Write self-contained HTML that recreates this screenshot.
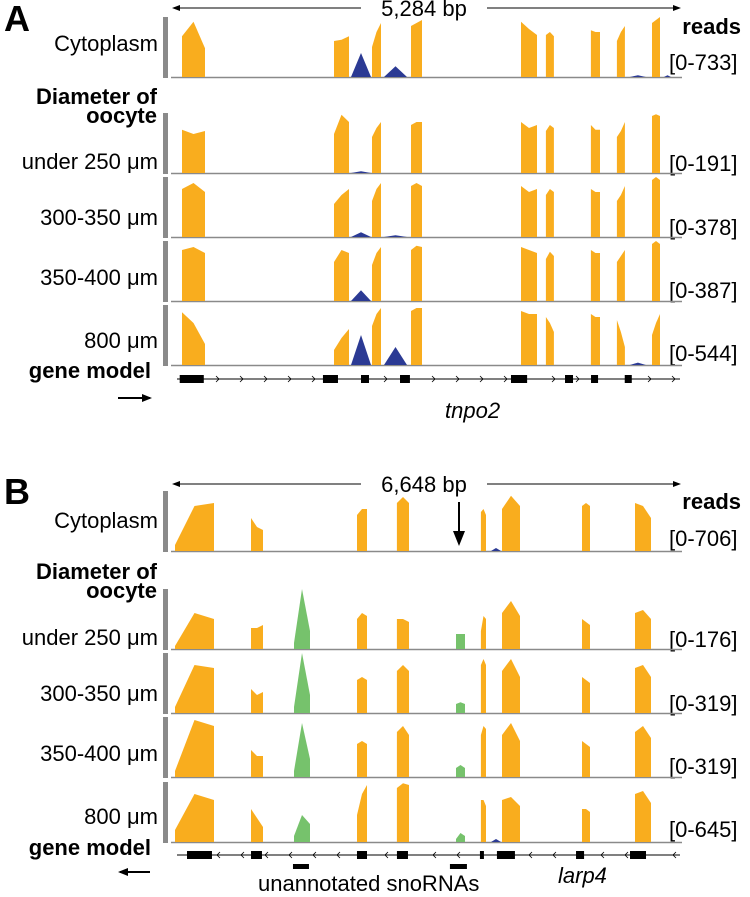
<!DOCTYPE html>
<html><head><meta charset="utf-8"><style>
html,body{margin:0;padding:0;background:#fff;}
svg{display:block;font-family:"Liberation Sans",Arial,sans-serif;}
</style></head><body>
<svg id="fig" width="750" height="897" viewBox="0 0 750 897">
<g id="labels" font-size="22" fill="#000">
  <text x="4" y="31" font-size="36" font-weight="bold">A</text>
  <text x="158" y="51" text-anchor="end">Cytoplasm</text>
  <text x="157" y="104" text-anchor="end" font-weight="bold">Diameter of</text>
  <text x="157" y="123" text-anchor="end" font-weight="bold">oocyte</text>
  <text x="158" y="169" text-anchor="end">under 250 μm</text>
  <text x="158" y="225" text-anchor="end">300-350 μm</text>
  <text x="158" y="285" text-anchor="end">350-400 μm</text>
  <text x="158" y="348" text-anchor="end">800 μm</text>
  <text x="151" y="378" text-anchor="end" font-weight="bold">gene model</text>
  <text x="741" y="34" text-anchor="end" font-weight="bold">reads</text>
  <text x="669" y="70">[0-733]</text>
  <text x="669" y="171">[0-191]</text>
  <text x="669" y="235">[0-378]</text>
  <text x="669" y="298">[0-387]</text>
  <text x="669" y="361">[0-544]</text>
  <text x="445" y="418" font-style="italic">tnpo2</text>

  <text x="4" y="504" font-size="36" font-weight="bold">B</text>
  <text x="158" y="528" text-anchor="end">Cytoplasm</text>
  <text x="157" y="579" text-anchor="end" font-weight="bold">Diameter of</text>
  <text x="157" y="598" text-anchor="end" font-weight="bold">oocyte</text>
  <text x="158" y="645" text-anchor="end">under 250 μm</text>
  <text x="158" y="701" text-anchor="end">300-350 μm</text>
  <text x="158" y="761" text-anchor="end">350-400 μm</text>
  <text x="158" y="824" text-anchor="end">800 μm</text>
  <text x="151" y="855" text-anchor="end" font-weight="bold">gene model</text>
  <text x="741" y="509" text-anchor="end" font-weight="bold">reads</text>
  <text x="669" y="546">[0-706]</text>
  <text x="669" y="647">[0-176]</text>
  <text x="669" y="711">[0-319]</text>
  <text x="669" y="774">[0-319]</text>
  <text x="669" y="837">[0-645]</text>
  <text x="258" y="891">unannotated snoRNAs</text>
  <text x="558" y="883" font-style="italic">larp4</text>
</g>
<g id="plot"></g>
</svg>
<script>
// ---------- Panel A data (bp positions, heights as fraction of track max) ----------
const aLength = 5284;
const aFeatStart = [104,1682,2076,2481,3623,3882,4349,4619,4983,1858,2201,4754,5107];
const aFeatEnd   = [343,1837,2170,2595,3789,3965,4443,4702,5066,2066,2440,4920,5180];
const aFeatType  = ["o","o","o","o","o","o","o","o","o","b","b","b","b"];
const aCyto   = [[.68,.92,.48],[.6,.62,.68],[.5,.75,.9],[.85,.9,.95],[.92,.8,.7],[.7,.75,.68],[.78,.75,.75],[.6,.75,.85],[.9,.95,1],[0,.4,0],[0,.18,0],[0,.03,0],[0,.03,0]];
const aUnder250 = [[.72,.65,.7],[.65,.97,.85],[.6,.75,.85],[.8,.85,.85],[.85,.75,.8],[.7,.8,.75],[.8,.72,.72],[.6,.7,.85],[.95,.98,.95],[0,.03,0],[0,0,0],[0,0,0],[0,0,0]];
const a300 = [[.8,.9,.75],[.55,.7,.8],[.6,.8,.9],[.85,.9,.85],[.85,.75,.8],[.7,.8,.75],[.8,.75,.75],[.6,.7,.85],[.95,1,.95],[0,.08,0],[0,.03,0],[0,0,0],[0,0,0]];
const a350 = [[.85,.9,.8],[.65,.85,.8],[.6,.8,.9],[.85,.92,.9],[.9,.85,.8],[.7,.82,.75],[.85,.8,.8],[.65,.75,.85],[.95,1,.95],[0,.18,0],[0,0,0],[0,0,0],[0,0,0]];
const a800 = [[.88,.7,.35],[.25,.45,.6],[.65,.85,.95],[.9,.95,.95],[.9,.85,.85],[.8,.7,.55],[.85,.8,.8],[.75,.55,.3],[.5,.7,.85],[0,.5,0],[0,.3,0],[0,.04,0],[0,0,0]];
const aGeneStart = [80,1567,1962,2367,3519,3602,4080,4350,4700];
const aGeneEnd   = [330,1723,2045,2470,3686,3686,4163,4423,4773];

// ---------- Panel B data ----------
const bLength = 6648;
const bFeatStart = [39,1032,2416,2938,4035,4310,5355,6047,1593,3709,4166];
const bFeatEnd   = [548,1188,2547,3095,4101,4545,5459,6256,1802,3827,4297];
const bFeatType  = ["o","o","o","o","o","o","o","o","g","g","b"];
const bCyto    = [[.1,.75,.8],[.55,.4,.35],[.6,.7,.7],[.8,.9,.8],[.65,.7,.6],[.7,.92,.75],[.75,.8,.75],[.8,.75,.55],[0,0,0],[0,0,0],[0,.05,0]];
const bUnder250 = [[.05,.6,.5],[.35,.35,.4],[.5,.6,.55],[.5,.5,.45],[.3,.55,.5],[.6,.8,.55],[.5,.45,.4],[.6,.65,.5],[.1,1,.3],[.25,.25,.25],[0,0,0]];
const b300 = [[.1,.8,.75],[.4,.3,.35],[.55,.6,.55],[.7,.8,.7],[.8,.9,.8],[.7,.9,.6],[.6,.55,.5],[.75,.8,.6],[.1,1,.3],[.15,.18,.15],[0,0,0]];
const b350 = [[.1,.95,.85],[.45,.35,.35],[.55,.6,.55],[.75,.85,.7],[.7,.85,.8],[.7,.9,.6],[.6,.55,.5],[.75,.85,.65],[.1,.9,.3],[.15,.2,.15],[0,0,0]];
const b800 = [[.2,.8,.7],[.55,.4,.25],[.45,.8,.95],[.9,.98,.95],[.7,.7,.6],[.7,.75,.6],[.55,.55,.5],[.8,.85,.65],[.1,.45,.3],[.05,.15,.1],[0,.05,0]];
const bGeneStart = [196,1032,2416,2938,4022,4244,5277,5982];
const bGeneEnd   = [522,1175,2547,3082,4074,4479,5382,6191];
const bSnoStart  = [1580,3630];
const bSnoEnd    = [1789,3852];

const NS = "http://www.w3.org/2000/svg";
const plot = document.getElementById('plot');
const X0 = 172, X1 = 681, TRACK_H = 60;
const COLORS = {o:"#f9ad1e", b:"#2b3a94", g:"#76c26c"};
function mk(tag, attrs){ const e=document.createElementNS(NS,tag); for(const k in attrs) e.setAttribute(k,attrs[k]); plot.appendChild(e); return e; }
function scaleFor(len){ return bp => X0 + bp/len*(X1-X0); }

function drawTrack(xs, base, starts, ends, types, hs, name){
  const bar = mk('rect',{x:163,y:base-60,width:5,height:61,fill:"#8a8a8a"});
  
  
  const ln = mk('line',{x1:X0-1,y1:base+0.5,x2:X1+1,y2:base+0.5,stroke:"#8a8a8a","stroke-width":1.5});
  
  
  for(let i=0;i<starts.length;i++){
    const h=hs[i]; if(h[0]===0&&h[1]===0&&h[2]===0) continue;
    const x0=xs(starts[i]), x1=xs(ends[i]), xm=(x0+x1)/2;
    const pts=[[x0,base],[x0,base-h[0]*TRACK_H],[xm,base-h[1]*TRACK_H],[x1,base-h[2]*TRACK_H],[x1,base]];
    const p = mk('polygon',{points:pts.map(q=>q[0].toFixed(1)+","+q[1].toFixed(1)).join(" "),fill:COLORS[types[i]]});
    
    
  }
}

function drawGene(xs, y, starts, ends, dir, name){
  const l = mk('line',{x1:X0+5,y1:y,x2:X1-1,y2:y,stroke:"#000","stroke-width":1});
  
  
  for(let x=X0+22;x<X1-4;x+=24){
    let inside=false;
    for(let i=0;i<starts.length;i++){ if(x>xs(starts[i])-4 && x<xs(ends[i])+4) inside=true; }
    if(inside) continue;
    const c = mk('polyline',{points: dir>0 ? `${x-2},${y-3} ${x+1},${y} ${x-2},${y+3}` : `${x+2},${y-3} ${x-1},${y} ${x+2},${y+3}`, fill:"none", stroke:"#000","stroke-width":0.8});
    
    
  }
  for(let i=0;i<starts.length;i++){
    const r = mk('rect',{x:xs(starts[i]),y:y-4,width:xs(ends[i])-xs(starts[i]),height:8,fill:"#000"});
    
    
  }
}

function drawSpan(y, label, name){
  const l = mk('line',{x1:X0+6,y1:y,x2:X1-6,y2:y,stroke:"#000","stroke-width":1});
  
  
  const a1 = mk('polygon',{points:`${X0},${y} ${X0+8},${y-3} ${X0+8},${y+3}`,fill:"#000"});
  
  
  const a2 = mk('polygon',{points:`${X1},${y} ${X1-8},${y-3} ${X1-8},${y+3}`,fill:"#000"});
  
  
  const bg = mk('rect',{x:361,y:y-12,width:126,height:24,fill:"#fff"});
  
  
  const t = mk('text',{x:424,y:y+8,"text-anchor":"middle","font-size":22});
  t.textContent = label;
  
  
}

function arrow(x0,x1,y,name){
  const l = mk('line',{x1:x0,y1:y,x2:x1,y2:y,stroke:"#000","stroke-width":2});
  
  
  const d = x1>x0?1:-1;
  const h = mk('polygon',{points:`${x1+d*2},${y} ${x1-d*8},${y-4} ${x1-d*8},${y+4}`,fill:"#000"});
  
  
}

// Panel A
const xa = scaleFor(aLength);
drawSpan(8, "5,284 bp", "a");
drawTrack(xa, 77, aFeatStart,aFeatEnd,aFeatType,aCyto,"a-cytoplasm");
drawTrack(xa, 173, aFeatStart,aFeatEnd,aFeatType,aUnder250,"a-under250");
drawTrack(xa, 237, aFeatStart,aFeatEnd,aFeatType,a300,"a-300-350");
drawTrack(xa, 301, aFeatStart,aFeatEnd,aFeatType,a350,"a-350-400");
drawTrack(xa, 365, aFeatStart,aFeatEnd,aFeatType,a800,"a-800");
drawGene(xa, 379, aGeneStart, aGeneEnd, 1, "a-gene");
arrow(118,150,398,"a-strand-arrow");

// Panel B
const xb = scaleFor(bLength);
drawSpan(484, "6,648 bp", "b");
drawTrack(xb, 551, bFeatStart,bFeatEnd,bFeatType,bCyto,"b-cytoplasm");
drawTrack(xb, 649, bFeatStart,bFeatEnd,bFeatType,bUnder250,"b-under250");
drawTrack(xb, 713, bFeatStart,bFeatEnd,bFeatType,b300,"b-300-350");
drawTrack(xb, 777, bFeatStart,bFeatEnd,bFeatType,b350,"b-350-400");
drawTrack(xb, 842, bFeatStart,bFeatEnd,bFeatType,b800,"b-800");
drawGene(xb, 855, bGeneStart, bGeneEnd, -1, "b-gene");
arrow(150,120,872,"b-strand-arrow");
for(let i=0;i<bSnoStart.length;i++){
  const r = mk('rect',{x:xb(bSnoStart[i]),y:864,width:xb(bSnoEnd[i])-xb(bSnoStart[i]),height:5,fill:"#000"});
  
  
}
// down arrow in B
const dl = mk('line',{x1:459,y1:502,x2:459,y2:534,stroke:"#000","stroke-width":2});


const dh = mk('polygon',{points:"459,546 453,531 465,531",fill:"#000"});


</script>
</body></html>
